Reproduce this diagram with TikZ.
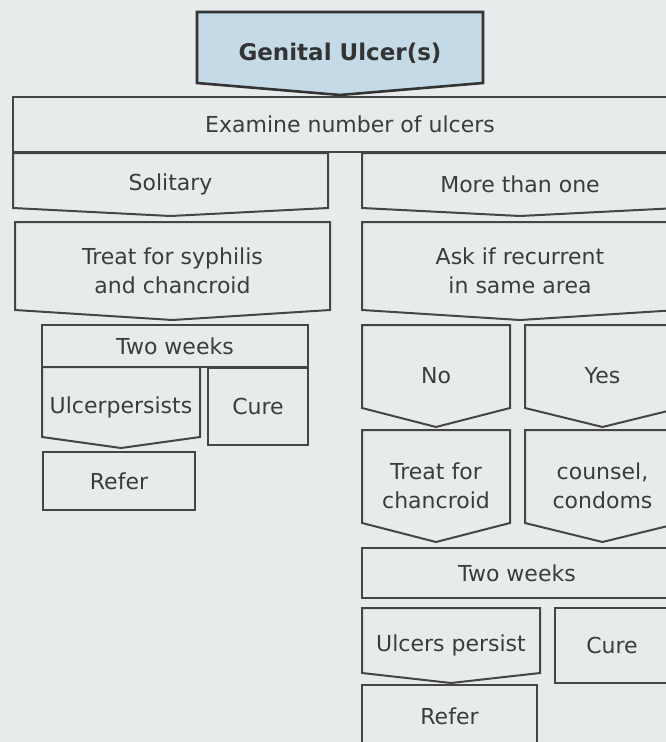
\documentclass[tikz,border=0pt]{standalone}
\usepackage{fontspec}
\setmainfont{DejaVu Sans}
\usepackage{tikz}
\usetikzlibrary{backgrounds}

\definecolor{paper}{HTML}{E7EBEC}
\definecolor{headblue}{HTML}{C4DBE7}
\definecolor{inkgray}{HTML}{3C3C3C}
\definecolor{linegray}{HTML}{454545}

\begin{document}
\begin{tikzpicture}[
      x=1pt, y=-1pt,
      font=\fontsize{22}{29}\selectfont,
      textbox/.style={
          rectangle,
          anchor=north west,
          inner sep=0pt,
          outer sep=0pt,
          align=center,
          text=inkgray
      },
      boxsize/.style 2 args={
          minimum width=#1pt,
          minimum height=#2pt
      },
      plainbox/.style={textbox, draw=linegray, line width=2pt},
      arrowbox/.style={textbox},
      boxline/.style={draw=linegray, line width=2pt},
      headline/.style={draw=black!80, line width=2.6pt, fill=headblue}
  ]
      \useasboundingbox (0,0) rectangle (666,742);
      \begin{scope}[on background layer]
          \fill[paper] (0,0) rectangle (666,742);
      \end{scope}

      % --- Head ---
      \node[arrowbox, boxsize={286}{83}, font=\fontsize{23}{28}\selectfont\bfseries, text=black!80] (head) at (197,12) {Genital Ulcer(s)};

      % --- First split ---
      \node[plainbox, boxsize={674}{55}] (examine) at (13,97) {Examine number of ulcers};
      \node[arrowbox, boxsize={315}{63}] (solitary) at (13,153) {Solitary};
      \node[arrowbox, boxsize={316}{63}] (several) at (362,153) {More than one};
      \node[arrowbox, boxsize={315}{98}] (treatboth) at (15,222) {Treat for syphilis\\and chancroid};
      \node[arrowbox, boxsize={316}{98}] (askrecur) at (362,222) {Ask if recurrent\\in same area};

      % --- Left branch ---
      \node[plainbox, boxsize={266}{42}] (weeksL) at (42,325) {Two weeks};
      \node[arrowbox, boxsize={158}{81}] (persistL) at (42,367) {Ulcerpersists};
      \node[plainbox, boxsize={100}{77}] (cureL) at (208,368) {Cure};
      \node[plainbox, boxsize={152}{58}] (referL) at (43,452) {Refer};

      % --- Right branch ---
      \node[arrowbox, boxsize={148}{102}] (no) at (362,325) {No};
      \node[arrowbox, boxsize={155}{102}] (yes) at (525,325) {Yes};
      \node[arrowbox, boxsize={148}{112}] (treatchan) at (362,430) {Treat for\\chancroid};
      \node[arrowbox, boxsize={155}{112}] (counsel) at (525,430) {counsel,\\condoms};
      \node[plainbox, boxsize={310}{50}] (weeksR) at (362,548) {Two weeks};
      \node[arrowbox, boxsize={178}{75}] (persistR) at (362,608) {Ulcers persist};
      \node[plainbox, boxsize={114}{75}] (cureR) at (555,608) {Cure};
      \node[plainbox, boxsize={175}{62}] (referR) at (362,685) {Refer};

      % --- Pointed outlines ---
      \foreach \n/\d in {solitary/8, several/8, treatboth/10, askrecur/10, persistL/11,
                         no/19, yes/19, treatchan/19, counsel/19, persistR/10}
          \draw[boxline] (\n.north west) -- (\n.north east) -- ([yshift=\d pt]\n.south east)
              -- (\n.south) -- ([yshift=\d pt]\n.south west) -- cycle;

      \begin{scope}[on background layer]
          \draw[headline] (head.north west) -- (head.north east) -- ([yshift=12pt]head.south east)
              -- (head.south) -- ([yshift=12pt]head.south west) -- cycle;
      \end{scope}

  \end{tikzpicture}
\end{document}
